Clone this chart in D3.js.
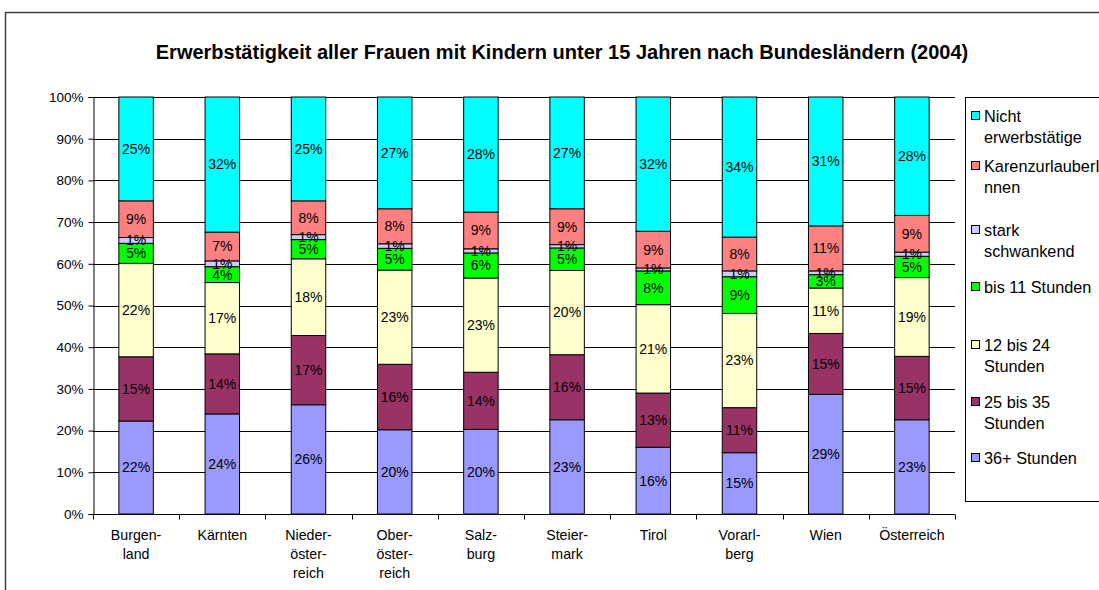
<!DOCTYPE html>
<html><head><meta charset="utf-8">
<script src="https://cdn.jsdelivr.net/npm/d3@7"></script>
<style>
html,body{margin:0;padding:0;background:#fff;}
svg{display:block;font-family:"Liberation Sans",Arial,sans-serif;}
</style></head>
<body>
<svg id="chart" width="1099" height="590"></svg>
<script>
// ---- data ----
const categories = [
  ["Burgen-","land"],["Kärnten"],["Nieder-","öster-","reich"],["Ober-","öster-","reich"],
  ["Salz-","burg"],["Steier-","mark"],["Tirol"],["Vorarl-","berg"],["Wien"],["Österreich"]
];
const seriesNames = ["36+ Stunden","25 bis 35 Stunden","12 bis 24 Stunden","bis 11 Stunden","stark schwankend","KarenzurlauberInnen","Nicht erwerbstätige"];
const legendLabels = [["36+ Stunden"],["25 bis 35","Stunden"],["12 bis 24","Stunden"],["bis 11 Stunden"],["stark","schwankend"],["KarenzurlauberI","nnen"],["Nicht","erwerbstätige"]];
const colors = ["#9999FF","#993366","#FFFFCC","#00FF00","#CCCCFF","#FF8080","#00FFFF"];
const s36plus   = [22.3,24.0,26.2,20.2,20.3,22.6,16.0,14.7,28.7,22.6];
const s25to35   = [15.4,14.4,16.6,15.7,13.7,15.6,13.0,10.8,14.6,15.2];
const s12to24   = [22.4,17.1,18.4,22.6,22.6,20.2,21.2,22.6,10.9,18.9];
const sBis11    = [4.8,3.8,4.6,5.2,6.0,5.4,8.1,8.8,3.2,5.1];
const sStark    = [1.4,1.4,1.2,1.1,1.0,0.8,0.7,1.4,0.9,1.0];
const sKarenz   = [8.8,6.9,8.1,8.4,8.8,8.6,8.8,8.1,10.8,8.8];
const sNicht    = [24.9,32.4,24.9,26.8,27.6,26.8,32.2,33.6,30.9,28.4];
const yTicks = [0,10,20,30,40,50,60,70,80,90,100];
const title = "Erwerbstätigkeit aller Frauen mit Kindern unter 15 Jahren nach Bundesländern (2004)";

// ---- build ----
const seriesValues = [s36plus,s25to35,s12to24,sBis11,sStark,sKarenz,sNicht];
const rows = categories.map((c,i)=>{
  const r = {key:i};
  seriesNames.forEach((s,j)=>{ r[s] = seriesValues[j][i]/100; });
  return r;
});
const stacked = d3.stack().keys(seriesNames)(rows);

const svg = d3.select("#chart");
const L = 93, R = 955, T = 97, B = 514;

// outer border
svg.append("rect").attr("x",5.5).attr("y",12.5).attr("width",1200).attr("height",700)
  .attr("fill","none").attr("stroke","#404040").attr("stroke-width",1.5);

svg.append("text").attr("x",562).attr("y",52).attr("text-anchor","middle")
  .attr("dominant-baseline","central").attr("font-weight","bold").attr("font-size","20px")
  .text(title);

const x = d3.scaleBand().domain(d3.range(categories.length)).range([L,R]).paddingInner(0.6).paddingOuter(0.3);
const xb = d3.scaleBand().domain(d3.range(categories.length)).range([L,R]);
const y = d3.scaleLinear().domain([0,1]).range([B,T]);

// gridlines
svg.append("g").selectAll("line").data(yTicks).join("line")
  .attr("x1",L).attr("x2",R).attr("y1",d=>Math.round(y(d/100))+0.5).attr("y2",d=>Math.round(y(d/100))+0.5)
  .attr("stroke","#000").attr("stroke-width",1);

// bars
const fmt = d3.format(".0%");
stacked.forEach((layer,j)=>{
  const g = svg.append("g");
  g.selectAll("rect").data(layer).join("rect")
    .attr("x",(d,i)=>x(i)).attr("width",x.bandwidth())
    .attr("y",d=>y(d[1])).attr("height",d=>y(d[0])-y(d[1]))
    .attr("fill",colors[j]).attr("stroke","#000").attr("stroke-width",1);
});
stacked.forEach((layer,j)=>{
  svg.append("g").selectAll("text").data(layer).join("text")
    .attr("x",(d,i)=>x(i)+x.bandwidth()/2)
    .attr("y",d=>(y(d[0])+y(d[1]))/2)
    .attr("dy","0.35em").attr("text-anchor","middle").attr("font-size","14px").attr("fill","#000")
    .text(d=>fmt(d[1]-d[0]));
});

// y axis
const yAxis = d3.axisLeft(y).tickValues(yTicks.map(d=>d/100)).tickFormat(d3.format(".0%")).tickSize(5).tickPadding(5);
const ya = svg.append("g").attr("transform",`translate(${L+0.5},0)`).call(yAxis);
ya.select(".domain").attr("stroke","#000");
ya.selectAll("text").attr("font-size","13.5px").attr("font-family","Liberation Sans, Arial, sans-serif").attr("fill","#000");

// x axis
const xa = svg.append("g").attr("transform",`translate(0,${B+0.5})`);
xa.append("line").attr("x1",L).attr("x2",R).attr("stroke","#000");
xa.selectAll("line.t").data(d3.range(categories.length+1)).join("line").attr("class","t")
  .attr("x1",i=>Math.round(L+i*xb.step())+0.5).attr("x2",i=>Math.round(L+i*xb.step())+0.5)
  .attr("y1",0).attr("y2",5).attr("stroke","#000");
xa.selectAll("text").data(categories).join("text")
  .attr("text-anchor","middle").attr("font-size","14.2px")
  .each(function(lines,i){
    const t = d3.select(this);
    lines.forEach((ln,k)=>{
      t.append("tspan").attr("x",x(i)+x.bandwidth()/2).attr("y",21+k*19).attr("dy","0.35em").text(ln);
    });
  });

// legend
const lg = svg.append("g");
lg.append("rect").attr("x",965.5).attr("y",97.5).attr("width",200).attr("height",404)
  .attr("fill","#fff").attr("stroke","#000");
const legendY = [458,402,345,287,230,166,116];
seriesNames.forEach((s,j)=>{
  const cy = legendY[j];
  lg.append("rect").attr("x",971.5).attr("y",cy-4.5).attr("width",8).attr("height",8)
    .attr("fill",colors[j]).attr("stroke","#000");
  const t = lg.append("text").attr("font-size","16.3px");
  legendLabels[j].forEach((ln,k)=>{
    t.append("tspan").attr("x",984).attr("y",cy+k*21).attr("dy","0.35em").text(ln);
  });
});
</script>
</body></html>
